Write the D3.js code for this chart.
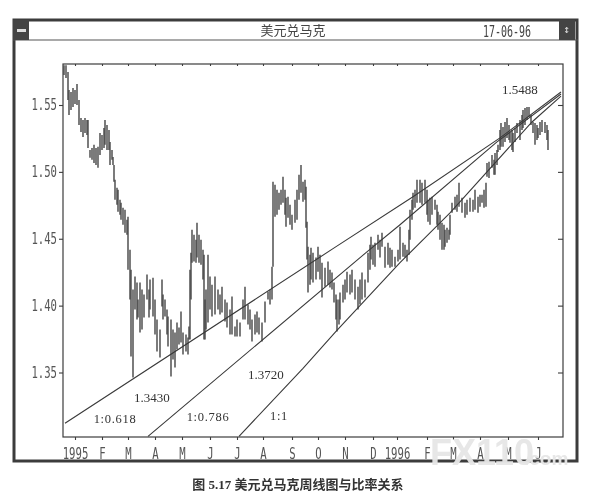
<!DOCTYPE html>
<html>
<head>
<meta charset="utf-8">
<script src="https://cdn.jsdelivr.net/npm/d3@7"></script>
<style>
html, body { margin: 0; padding: 0; background: #fff; }
svg { display: block; filter: blur(0.35px); }
</style>
</head>
<body>
<div id="chart"></div>
<script>
var monthLabels = ['1995', 'F', 'M', 'A', 'M', 'J', 'J', 'A', 'S', 'O', 'N', 'D', '1996', 'F', 'M', 'A', 'M', 'J'];
var monthDays = [12, 39, 65, 92, 119, 147, 174, 200, 229, 255, 282, 310, 334, 364, 390, 417, 445, 475];
var priceTicks = [1.35, 1.40, 1.45, 1.50, 1.55];

// session number along the time axis, then high and low of each bar
var barDay = [
    1,3,5,6,8,10,12,14,16,18,
    20,22,24,25,27,29,31,33,35,37,
    39,41,42,44,46,47,49,50,51,52,
    54,55,57,58,60,62,64,65,67,68,
    70,72,74,75,77,79,81,84,86,87,
    90,92,94,97,99,100,102,104,105,108,
    110,112,114,116,118,120,123,125,126,127,
    128,129,131,133,134,136,138,140,141,142,
    143,145,147,149,152,155,157,159,162,164,
    167,169,172,174,177,180,182,185,187,189,
    192,194,196,199,202,205,207,209,210,212,
    214,216,218,220,222,223,225,227,229,232,
    234,236,238,240,242,243,244,245,247,248,
    250,253,255,257,259,262,265,267,269,271,
    273,274,276,277,280,282,284,287,289,292,
    295,297,299,302,305,307,308,310,312,315,
    317,319,322,325,327,329,332,335,337,340,
    342,344,346,347,349,350,352,354,357,359,
    362,364,365,367,369,372,374,375,377,379,
    381,382,384,386,387,389,392,394,396,399,
    402,404,407,410,412,415,417,419,421,423,
    424,426,429,431,432,434,435,437,438,440,
    442,444,446,447,449,450,452,454,457,459,
    460,462,464,466,468,470,472,474,475,477,
    479,482,484,485
];
var barHigh = [
    1.5798,1.5798,1.5746,1.5612,1.5597,1.5627,1.5612,1.5657,1.5537,1.5403,
    1.5388,1.5403,1.5388,1.5388,1.5164,1.5179,1.5202,1.5179,1.5187,1.5291,
    1.5276,1.5328,1.5388,1.5351,1.5313,1.5224,1.5164,1.5112,1.5052,1.4941,
    1.4881,1.4866,1.4791,1.4769,1.4732,1.4717,1.4642,1.4664,1.4418,1.4269,
    1.4120,1.4217,1.4172,1.4045,1.4172,1.4120,1.4083,1.4232,1.4120,1.4195,
    1.4209,1.4045,1.3896,1.3822,1.4195,1.4083,1.4045,1.3971,1.3918,1.3896,
    1.3822,1.3799,1.3874,1.3836,1.3956,1.3799,1.3784,1.3762,1.3844,1.4269,
    1.4396,1.4567,1.4530,1.4493,1.4620,1.4530,1.4493,1.4418,1.4381,1.4045,
    1.4120,1.4381,1.4217,1.4157,1.4217,1.4120,1.4083,1.4142,1.4045,1.4023,
    1.3971,1.4068,1.3844,1.3896,1.3874,1.4045,1.4142,1.4008,1.3971,1.3896,
    1.3933,1.3956,1.3911,1.3874,1.4030,1.4105,1.4120,1.4291,1.4926,1.4903,
    1.4866,1.4844,1.4866,1.4963,1.4866,1.4806,1.4814,1.4754,1.4679,1.4791,
    1.4866,1.4978,1.5052,1.4926,1.4941,1.4888,1.4627,1.4441,1.4381,1.4433,
    1.4396,1.4359,1.4441,1.4381,1.4321,1.4284,1.4329,1.4269,1.4247,1.4172,
    1.4083,1.4045,1.4045,1.4098,1.4157,1.4195,1.4254,1.4232,1.4269,1.4195,
    1.4142,1.4195,1.4247,1.4195,1.4396,1.4456,1.4515,1.4456,1.4470,1.4530,
    1.4493,1.4545,1.4441,1.4470,1.4433,1.4418,1.4366,1.4418,1.4590,1.4470,
    1.4456,1.4418,1.4567,1.4717,1.4791,1.4844,1.4866,1.4941,1.4941,1.4918,
    1.4941,1.4866,1.4791,1.4806,1.4814,1.4791,1.4754,1.4702,1.4679,1.4620,
    1.4605,1.4567,1.4582,1.4567,1.4679,1.4769,1.4814,1.4829,1.4918,1.4806,
    1.4769,1.4791,1.4806,1.4791,1.4866,1.4814,1.4829,1.4829,1.4866,1.4918,
    1.5067,1.5075,1.5127,1.5090,1.5142,1.5164,1.5202,1.5313,1.5366,1.5336,
    1.5373,1.5403,1.5351,1.5299,1.5313,1.5291,1.5328,1.5366,1.5388,1.5425,
    1.5463,1.5478,1.5485,1.5485,1.5425,1.5373,1.5366,1.5351,1.5328,1.5373,
    1.5388,1.5373,1.5351,1.5313
];
var barLow = [
    1.5724,1.5701,1.5537,1.5425,1.5463,1.5485,1.5507,1.5500,1.5351,1.5299,
    1.5261,1.5291,1.5276,1.5179,1.5105,1.5090,1.5067,1.5052,1.5030,1.5127,
    1.5164,1.5179,1.5202,1.5164,1.5164,1.5052,1.5090,1.5052,1.4926,1.4791,
    1.4754,1.4702,1.4679,1.4642,1.4605,1.4545,1.4530,1.4269,1.4045,1.3620,
    1.3463,1.3971,1.3896,1.3911,1.3799,1.3822,1.3911,1.4045,1.3911,1.3971,
    1.3918,1.3784,1.3657,1.3613,1.3993,1.3896,1.3918,1.3784,1.3695,1.3471,
    1.3598,1.3538,1.3672,1.3710,1.3724,1.3635,1.3657,1.3635,1.3747,1.3747,
    1.4045,1.4321,1.4329,1.4321,1.4359,1.4321,1.4306,1.4195,1.3747,1.3747,
    1.3822,1.3874,1.3971,1.3918,1.3933,1.3971,1.3933,1.3948,1.3881,1.3836,
    1.3784,1.3784,1.3769,1.3769,1.3769,1.3896,1.3896,1.3859,1.3822,1.3732,
    1.3784,1.3799,1.3784,1.3732,1.3874,1.4045,1.4008,1.4045,1.4291,1.4664,
    1.4679,1.4717,1.4754,1.4769,1.4679,1.4590,1.4657,1.4605,1.4567,1.4620,
    1.4642,1.4791,1.4844,1.4776,1.4791,1.4582,1.4344,1.4098,1.4157,1.4195,
    1.4172,1.4195,1.4254,1.4195,1.4060,1.4142,1.4157,1.4135,1.4120,1.4023,
    1.3896,1.3807,1.3859,1.3896,1.4023,1.4045,1.4098,1.4083,1.4098,1.4045,
    1.3971,1.4008,1.4045,1.4060,1.4172,1.4269,1.4344,1.4306,1.4291,1.4418,
    1.4359,1.4441,1.4284,1.4306,1.4284,1.4291,1.4291,1.4329,1.4344,1.4366,
    1.4359,1.4329,1.4381,1.4493,1.4642,1.4717,1.4732,1.4769,1.4769,1.4754,
    1.4769,1.4679,1.4627,1.4605,1.4679,1.4717,1.4605,1.4567,1.4493,1.4418,
    1.4418,1.4441,1.4470,1.4493,1.4530,1.4694,1.4717,1.4702,1.4739,1.4694,
    1.4657,1.4679,1.4702,1.4702,1.4717,1.4694,1.4739,1.4769,1.4732,1.4739,
    1.4963,1.4955,1.5030,1.4978,1.4978,1.5052,1.5149,1.5164,1.5187,1.5187,
    1.5224,1.5254,1.5239,1.5217,1.5164,1.5149,1.5224,1.5291,1.5239,1.5313,
    1.5328,1.5351,1.5388,1.5411,1.5351,1.5291,1.5202,1.5239,1.5254,1.5276,
    1.5299,1.5291,1.5239,1.5164
];

var line618Days = [2, 270, 350, 437, 498];
var line618Prices = [1.3120, 1.4426, 1.4814, 1.5254, 1.5597];
var line786Days = [85, 303, 337, 434, 498];
var line786Prices = [1.3023, 1.4396, 1.4605, 1.5224, 1.5582];
var line1Days = [176, 240, 273, 337, 387, 469, 498];
var line1Prices = [1.3023, 1.3531, 1.3807, 1.4321, 1.4694, 1.5373, 1.5567];

var noteTexts = ['1.5488', '1.3430', '1.3720'];
var noteDays = [439, 71, 185];
var notePrices = [1.5583, 1.3277, 1.3449];
var ratioTexts = ['1:0.618', '1:0.786', '1:1'];
var ratioDays = [52, 145, 216];
var ratioPrices = [1.3120, 1.3135, 1.3143];

var margin = {left: 63, right: 563, top: 64, bottom: 437};
var ink = '#3c3c3c';
var termFont = '"DejaVu Sans Mono", monospace';

var svg = d3.select('#chart').append('svg')
            .attr('width', 606)
            .attr('height', 499);

var x = d3.scaleLinear().domain([0, 500]).range([margin.left, margin.right]);
var y = d3.scaleLinear().domain([1.35, 1.55]).range([372.5, 105]);

// window frame and title bar
svg.append('rect').attr('x', 14).attr('y', 20).attr('width', 563).attr('height', 441)
   .style('fill', 'none').style('stroke', ink).style('stroke-width', 3);
svg.append('line').attr('x1', 13).attr('x2', 578).attr('y1', 40).attr('y2', 40)
   .style('stroke', '#555').style('stroke-width', 1.2);
svg.append('rect').attr('x', 13).attr('y', 20).attr('width', 16).attr('height', 20).style('fill', '#444');
svg.append('rect').attr('x', 17).attr('y', 29).attr('width', 9).attr('height', 3).style('fill', '#ddd');
svg.append('rect').attr('x', 559).attr('y', 20).attr('width', 16).attr('height', 20).style('fill', '#444');
svg.append('text').attr('x', 566.5).attr('y', 30).attr('text-anchor', 'middle')
   .attr('dominant-baseline', 'middle').style('font-size', '11px').style('fill', '#ddd')
   .style('font-family', termFont).text('\u2195');
svg.append('text').attr('x', 293).attr('y', 35).attr('text-anchor', 'middle')
   .style('font-family', '"Noto Sans CJK SC"').style('font-size', '13px').style('fill', '#444').text('美元兑马克');
svg.append('text').attr('x', 507).attr('y', 37).attr('text-anchor', 'middle')
   .attr('textLength', 48).attr('lengthAdjust', 'spacingAndGlyphs')
   .style('font-family', termFont).style('font-size', '15px').style('fill', '#444').text('17-06-96');

// plot box
svg.append('rect').attr('x', margin.left).attr('y', margin.top)
   .attr('width', margin.right - margin.left).attr('height', margin.bottom - margin.top)
   .style('fill', 'none').style('stroke', ink).style('stroke-width', 1.2);

var leftAxis = d3.axisLeft(y).tickValues(priceTicks).tickSize(4).tickPadding(2).tickFormat(d3.format('.2f'));
var rightAxis = d3.axisLeft(y).tickValues(priceTicks).tickSize(5).tickFormat('');
var bottomAxis = d3.axisBottom(x).tickValues(monthDays).tickSize(3).tickPadding(8)
                   .tickFormat(function (d, i) { return monthLabels[i]; });
var topAxis = d3.axisBottom(x).tickValues(monthDays).tickSize(2).tickFormat('');

var axes = [
    svg.append('g').attr('transform', 'translate(' + margin.left + ',0)').call(leftAxis),
    svg.append('g').attr('transform', 'translate(' + margin.right + ',0)').call(rightAxis),
    svg.append('g').attr('transform', 'translate(0,' + margin.bottom + ')').call(bottomAxis),
    svg.append('g').attr('transform', 'translate(0,' + margin.top + ')').call(topAxis)
];
axes.forEach(function (a) {
    a.select('.domain').remove();
    a.selectAll('line').style('stroke', ink).style('stroke-width', 1.1);
    a.selectAll('text')
     .attr('textLength', function () { return this.textContent.length * 6.4; })
     .attr('lengthAdjust', 'spacingAndGlyphs')
     .style('font-family', termFont).style('font-size', '15px').style('fill', '#555');
});

// hi-lo bars
svg.selectAll('.bar').data(barDay).enter().append('line')
   .attr('class', 'bar')
   .attr('x1', function (d) { return x(d); })
   .attr('x2', function (d) { return x(d); })
   .attr('y1', function (d, i) { return y(barHigh[i]); })
   .attr('y2', function (d, i) { return y(barLow[i]); })
   .style('stroke', '#444')
   .style('stroke-width', 1.4);

// ratio lines
var ratioLine = d3.line()
    .x(function (d) { return x(d[0]); })
    .y(function (d) { return y(d[1]); });
[[line618Days, line618Prices], [line786Days, line786Prices], [line1Days, line1Prices]].forEach(function (l) {
    svg.append('path')
       .attr('d', ratioLine(d3.zip(l[0], l[1])))
       .style('fill', 'none').style('stroke', '#3a3a3a').style('stroke-width', 1.1);
});

noteTexts.forEach(function (t, i) {
    svg.append('text').attr('x', x(noteDays[i])).attr('y', y(notePrices[i]))
       .style('font-family', '"Liberation Serif"').style('font-size', '13px').style('fill', '#333').text(t);
});
ratioTexts.forEach(function (t, i) {
    svg.append('text').attr('x', x(ratioDays[i])).attr('y', y(ratioPrices[i])).attr('text-anchor', 'middle')
       .style('font-family', '"Liberation Serif"').style('font-size', '12.5px').style('letter-spacing', '0.7px')
       .style('fill', '#333').text(t);
});

svg.append('text').attr('x', 298).attr('y', 489).attr('text-anchor', 'middle')
   .style('font-family', '"Liberation Serif", "Noto Sans CJK SC"').style('font-size', '13px').style('font-weight', 700)
   .style('fill', '#333').text('图 5.17   美元兑马克周线图与比率关系');

// scan watermark sits on top of everything
svg.append('text').attr('x', 430).attr('y', 465)
   .style('font-family', '"Liberation Sans"').style('font-size', '36px').style('font-weight', 700)
   .style('fill', '#e6e6e6').style('opacity', 0.96).text('FX110');
svg.append('text').attr('x', 524).attr('y', 465)
   .style('font-family', '"Liberation Sans"').style('font-size', '19px').style('font-weight', 700)
   .style('fill', '#e6e6e6').style('opacity', 0.96).text('.com');
</script>
</body>
</html>
